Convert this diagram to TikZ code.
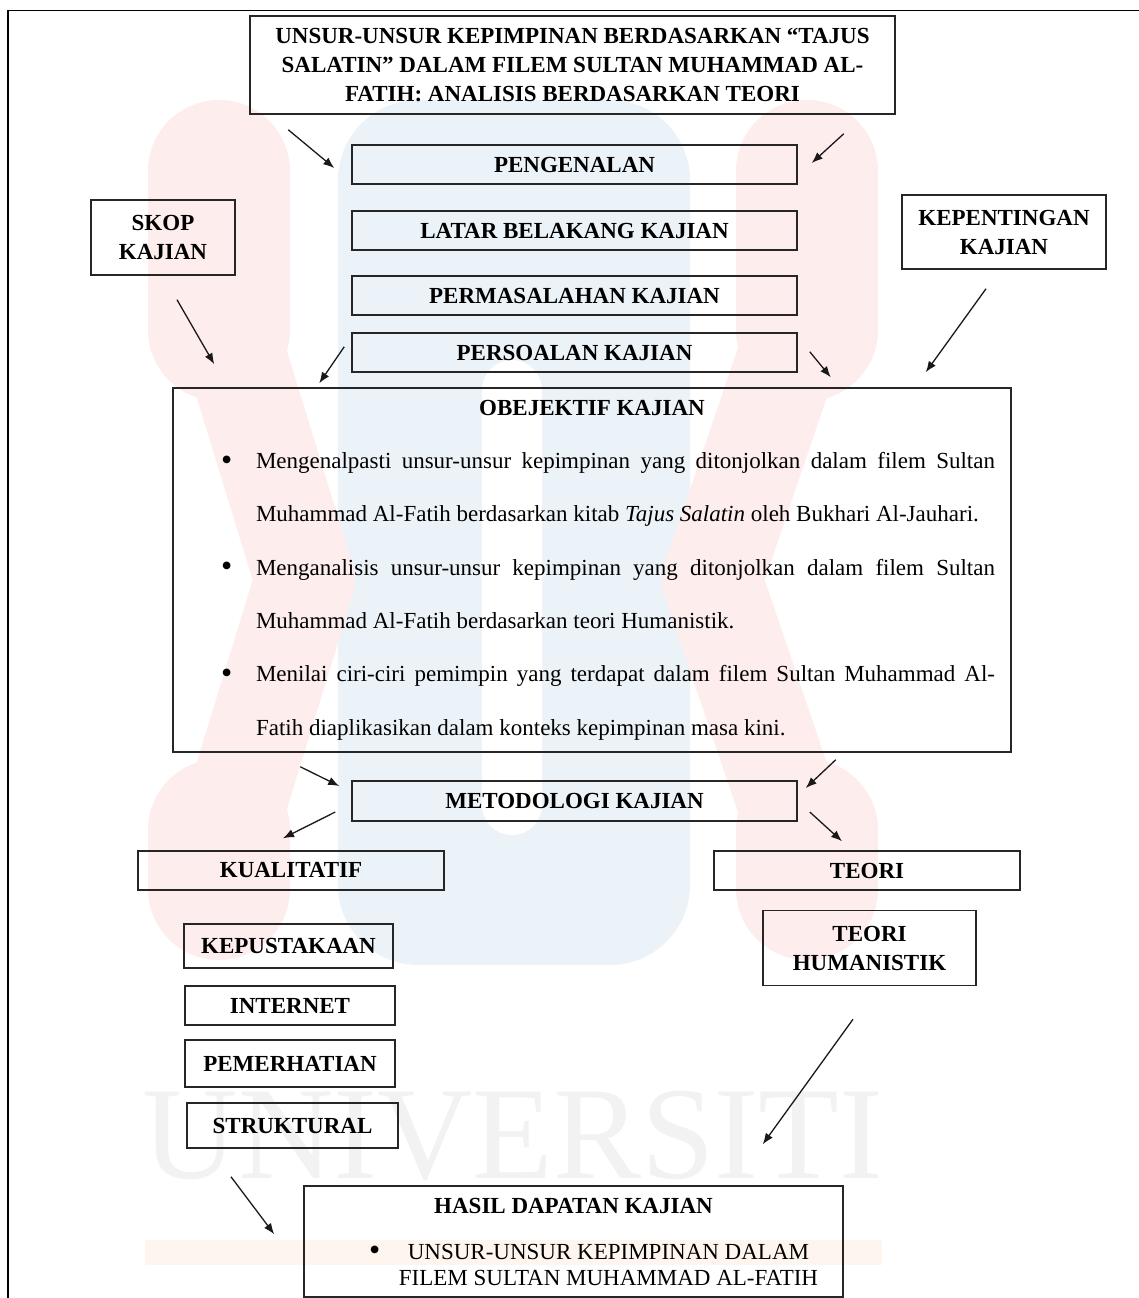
\documentclass[tikz,border=0pt]{standalone}
\usepackage{fontspec}
\setmainfont{Liberation Serif}
\usetikzlibrary{arrows.meta}
\definecolor{wmmerah}{RGB}{253,237,237}
\definecolor{wmbiru}{RGB}{236,243,248}
\definecolor{wmkelabu}{RGB}{242,242,242}
\definecolor{wmoren}{RGB}{254,246,238}
\newcommand{\titik}{\raisebox{-1.5pt}{\fontsize{32}{32}\selectfont\textbullet}}
\begin{document}
\begin{tikzpicture}[x=1pt,y=-1pt,
  kotak/.style={draw=black!85,line width=1.5pt,inner sep=0pt,align=center,
    font=\fontsize{23}{29}\selectfont\bfseries},
  panah/.style={-{Latex[length=11pt,width=8.5pt]},line width=1.3pt,black!90}]
  \useasboundingbox (0,0) rectangle (1139,1298);
  % tanda air
  \fill[wmbiru,rounded corners=80pt] (338,100) rectangle (690,965);
  \fill[white,rounded corners=30pt] (482,360) rectangle (542,835);
  \draw[wmmerah,line width=142pt,line cap=round] (219,171) -- (219,330) (219,830) -- (219,889);
  \draw[wmmerah,line width=142pt,line cap=round] (807,171) -- (807,330) (807,830) -- (807,889);
  \draw[wmmerah,line width=100pt,line join=round] (219,300) -- (305,580) -- (219,860);
  \draw[wmmerah,line width=100pt,line join=round] (807,300) -- (712,580) -- (807,860);
  \node[font=\fontsize{132}{132}\selectfont,text=wmkelabu,inner sep=0pt,anchor=base] (tandaair) at (513,1178) {UNIVERSITI};
  \fill[wmoren] (145,1240) rectangle (882,1265);
  \draw[line width=1.8pt] (7.6,1305) -- (7.6,10.5) -- (1145,10.5);

  \node[kotak,minimum width=645pt,minimum height=98pt] (judul) at (572.5,65) {UNSUR-UNSUR KEPIMPINAN BERDASARKAN “TAJUS\\SALATIN” DALAM FILEM SULTAN MUHAMMAD AL-\\FATIH: ANALISIS BERDASARKAN TEORI};
  \node[kotak,minimum width=445pt,minimum height=39pt] (pengenalan) at (574.5,164.5) {PENGENALAN};
  \node[kotak,minimum width=445pt,minimum height=39pt] (latar) at (574.5,230.5) {LATAR BELAKANG KAJIAN};
  \node[kotak,minimum width=445pt,minimum height=39pt] (masalah) at (574.5,295.5) {PERMASALAHAN KAJIAN};
  \node[kotak,minimum width=445pt,minimum height=39pt] (soalan) at (574.5,352.5) {PERSOALAN KAJIAN};
  \node[kotak,minimum width=144pt,minimum height=75pt] (skop) at (163,237.5) {SKOP\\KAJIAN};
  \node[kotak,minimum width=204pt,minimum height=74pt] (penting) at (1004,232) {KEPENTINGAN\\KAJIAN};
  \node[kotak,minimum width=838pt,minimum height=364pt] (objektif) at (592,570) {\parbox{838pt}{%
    \fontsize{23}{53.3}\selectfont\mdseries\lineskiplimit=-100pt
    \centering\textbf{OBEJEKTIF KAJIAN}\par
    \raggedright
    \hspace*{48pt}\makebox[35pt][l]{\titik}\makebox[739pt][s]{Mengenalpasti unsur-unsur kepimpinan yang ditonjolkan dalam filem Sultan}\par
    \hspace*{83pt}Muhammad Al-Fatih berdasarkan kitab \textit{Tajus Salatin} oleh Bukhari Al-Jauhari.\par
    \hspace*{48pt}\makebox[35pt][l]{\titik}\makebox[739pt][s]{Menganalisis unsur-unsur kepimpinan yang ditonjolkan dalam filem Sultan}\par
    \hspace*{83pt}Muhammad Al-Fatih berdasarkan teori Humanistik.\par
    \hspace*{48pt}\makebox[35pt][l]{\titik}\makebox[739pt][s]{Menilai ciri-ciri pemimpin yang terdapat dalam filem Sultan Muhammad Al-}\par
    \hspace*{83pt}Fatih diaplikasikan dalam konteks kepimpinan masa kini.\par}};
  \node[kotak,minimum width=445pt,minimum height=40pt] (metodologi) at (574.5,801) {METODOLOGI KAJIAN};
  \node[kotak,minimum width=306pt,minimum height=39pt] (kualitatif) at (291,870.5) {KUALITATIF};
  \node[kotak,minimum width=306pt,minimum height=39pt] (teori) at (867,870.5) {TEORI};
  \node[kotak,minimum width=209pt,minimum height=44pt] (pustaka) at (288.5,946) {KEPUSTAKAAN};
  \node[kotak,minimum width=210pt,minimum height=39pt] (internet) at (290,1005.5) {INTERNET};
  \node[kotak,minimum width=210pt,minimum height=47pt] (perhatian) at (290,1063.5) {PEMERHATIAN};
  \node[kotak,minimum width=211pt,minimum height=45pt] (struktural) at (292.5,1125.5) {STRUKTURAL};
  \node[kotak,minimum width=213pt,minimum height=75pt] (humanistik) at (869.5,948) {TEORI\\HUMANISTIK};
  \node[kotak,minimum width=539pt,minimum height=111pt] (hasil) at (573.5,1241.5) {\parbox{539pt}{%
    \centering\fontsize{23}{26}\selectfont HASIL DAPATAN KAJIAN\par\vspace{20pt}
    \mdseries\leavevmode\rlap{\hspace*{65pt}\titik}\makebox[539pt]{\hspace*{70pt}UNSUR-UNSUR KEPIMPINAN DALAM}\par
    \makebox[539pt]{\hspace*{70pt}FILEM SULTAN MUHAMMAD AL-FATIH}\par}};

  \draw[panah] ([shift={(39,15)}]judul.south west) -- ([shift={(-17,3.5)}]pengenalan.west);
  \draw[panah] ([shift={(-52,19)}]judul.south east) -- ([shift={(14,-1.5)}]pengenalan.east);
  \draw[panah] ([shift={(14,24)}]skop.south) -- ([shift={(42,-23)}]objektif.north west);
  \draw[panah] ([shift={(-7,-26)}]soalan.south west) -- ([shift={(147,-4)}]objektif.north west);
  \draw[panah] ([shift={(12,-21)}]soalan.south east) -- ([shift={(-181,-10)}]objektif.north east);
  \draw[panah] ([shift={(-18,19)}]penting.south) -- ([shift={(-86,-15)}]objektif.north east);
  \draw[panah] ([shift={(128,14)}]objektif.south west) -- ([shift={(-12,-15)}]metodologi.west);
  \draw[panah] ([shift={(-176,7)}]objektif.south east) -- ([shift={(8,-13)}]metodologi.east);
  \draw[panah] ([shift={(-16,11)}]metodologi.west) -- ([shift={(-8,-12)}]kualitatif.north);
  \draw[panah] ([shift={(12,11)}]metodologi.east) -- ([shift={(-25,-9)}]teori.north);
  \draw[panah] ([shift={(-61.5,28)}]struktural.south) -- ([shift={(-29,49)}]hasil.north west);
  \draw[panah] ([shift={(-16.5,33)}]humanistik.south) -- ([shift={(-81,-41)}]hasil.north east);
\end{tikzpicture}
\end{document}
